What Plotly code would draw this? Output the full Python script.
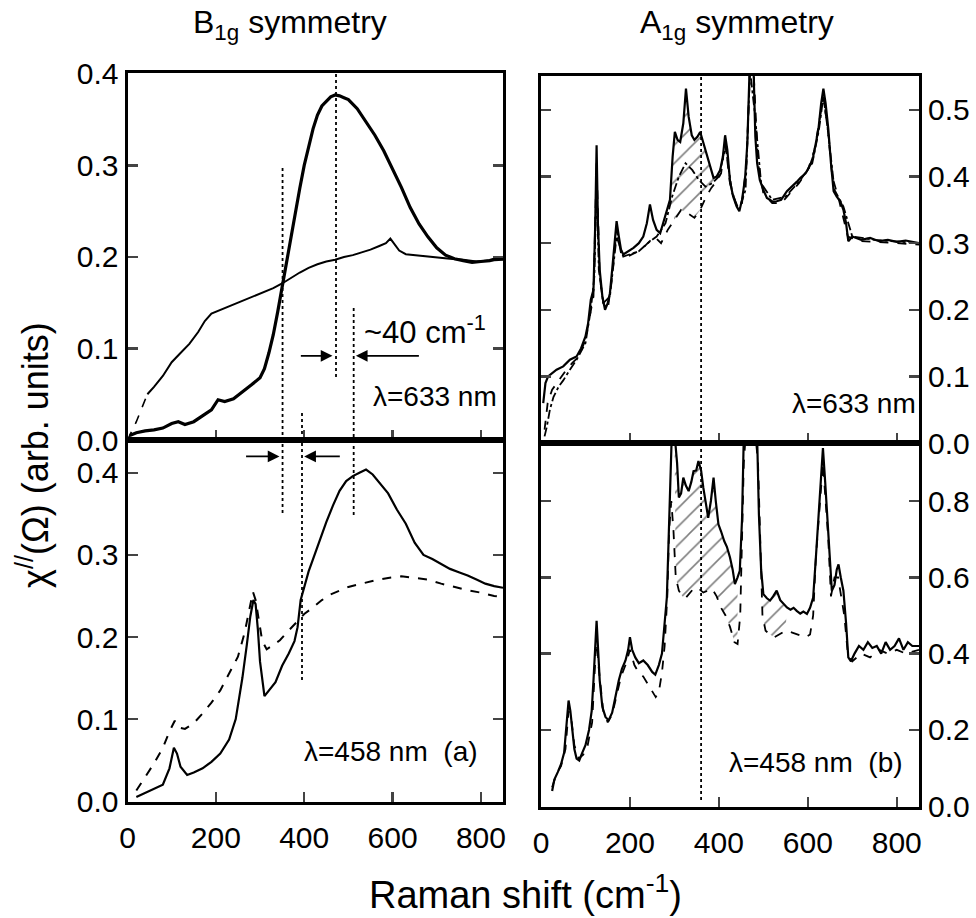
import plotly.graph_objects as go

# ---------------- data ----------------
# Left column, B1g symmetry, lambda = 633 nm
b1g_633_x_a = [5, 20, 40, 60, 80, 100, 115, 130, 150, 170, 190, 205, 220, 240, 260, 280, 300, 310, 320, 330,
               340, 350, 360, 370, 380, 390, 400, 410, 420, 430, 440, 450, 460, 470, 480, 490, 500, 520, 540, 560,
               580, 600, 620, 640, 660, 680, 700, 720, 740, 760, 780, 800, 820, 840, 850]
b1g_633_y_a = [0.005, 0.008, 0.010, 0.011, 0.013, 0.018, 0.020, 0.017, 0.020, 0.026, 0.033, 0.044, 0.042, 0.045, 0.052,
               0.060, 0.068, 0.078, 0.095, 0.115, 0.140, 0.168, 0.195, 0.220, 0.250, 0.275, 0.300, 0.322, 0.340, 0.355,
               0.365, 0.370, 0.375, 0.377, 0.376, 0.374, 0.372, 0.362, 0.348, 0.333, 0.316, 0.296, 0.276, 0.254, 0.236,
               0.222, 0.210, 0.202, 0.198, 0.196, 0.194, 0.195, 0.196, 0.199, 0.198]
b1g_633_x_b = [0, 10, 20, 30, 45, 60, 80, 100, 120, 140, 160, 175, 190, 210, 230, 250, 270, 290, 310, 330, 350, 370,
               390, 410, 430, 450, 470, 490, 510, 530, 550, 570, 585, 595, 605, 615, 630, 650, 670, 700, 730, 760,
               790, 820, 850]
b1g_633_y_b = [0.000, 0.010, 0.020, 0.032, 0.050, 0.058, 0.070, 0.085, 0.095, 0.105, 0.118, 0.130, 0.138, 0.142, 0.146,
               0.150, 0.154, 0.158, 0.162, 0.166, 0.171, 0.177, 0.183, 0.188, 0.192, 0.195, 0.197, 0.200, 0.202, 0.205,
               0.208, 0.212, 0.215, 0.220, 0.213, 0.207, 0.203, 0.202, 0.201, 0.199, 0.198, 0.197, 0.195, 0.196, 0.197]

# Left column, B1g symmetry, lambda = 458 nm
b1g_458_x_solid = [20, 40, 60, 80, 95, 105, 112, 120, 135, 150, 170, 190, 210, 230, 245, 260, 270, 278, 285, 290, 295,
                   300, 310, 320, 335, 350, 365, 378, 385, 392, 400, 410, 420, 435, 450, 465, 480, 495, 510, 525, 540,
                   555, 570, 590, 610, 630, 650, 670, 690, 710, 730, 750, 770, 790, 810, 830, 850]
b1g_458_y_solid = [0.005, 0.010, 0.015, 0.020, 0.040, 0.065, 0.058, 0.042, 0.032, 0.035, 0.040, 0.048, 0.058, 0.075,
                   0.100, 0.150, 0.190, 0.225, 0.245, 0.240, 0.210, 0.170, 0.128, 0.135, 0.145, 0.165, 0.180, 0.195,
                   0.212, 0.245, 0.262, 0.280, 0.295, 0.318, 0.340, 0.360, 0.378, 0.390, 0.396, 0.400, 0.404, 0.398,
                   0.388, 0.375, 0.355, 0.338, 0.315, 0.300, 0.295, 0.289, 0.283, 0.279, 0.275, 0.270, 0.265, 0.262,
                   0.260]
b1g_458_x_dash = [20, 40, 60, 80, 95, 107, 115, 130, 150, 170, 190, 210, 230, 250, 265, 275, 284, 290, 297, 305, 315,
                  330, 345, 360, 380, 400, 420, 440, 460, 480, 500, 530, 560, 590, 620, 650, 680, 710, 740, 770, 800,
                  830, 850]
b1g_458_y_dash = [0.013, 0.030, 0.046, 0.065, 0.085, 0.098, 0.090, 0.088, 0.095, 0.107, 0.120, 0.135, 0.155, 0.176,
                  0.205, 0.230, 0.255, 0.245, 0.220, 0.195, 0.185, 0.190, 0.196, 0.205, 0.217, 0.228, 0.236, 0.245,
                  0.252, 0.257, 0.261, 0.265, 0.269, 0.272, 0.274, 0.272, 0.270, 0.265, 0.261, 0.257, 0.254, 0.250,
                  0.249]

# Right column, A1g symmetry, lambda = 633 nm
a1g_633_x_solid = [5, 10, 16, 25, 35, 50, 65, 80, 90, 100, 106, 112, 118, 122, 125, 128, 132, 138, 144, 150, 155, 160,
                   165, 170, 175, 180, 185, 195, 208, 220, 230, 238, 245, 252, 260, 268, 275, 282, 290, 296, 301, 307,
                   313, 320, 326, 332, 339, 345, 352, 358, 365, 373, 380, 388, 395, 403, 409, 414, 419, 425, 432, 440,
                   446, 452, 459, 464, 469, 474, 478, 482, 486, 492, 500, 508, 515, 522, 530, 540, 553, 565, 575, 583,
                   595, 605, 612, 618, 624, 630, 635, 640, 646, 652, 658, 665, 673, 680, 686, 691, 700, 720, 740, 760,
                   780, 800, 820, 850]
a1g_633_y_solid = [0.060, 0.090, 0.100, 0.105, 0.110, 0.115, 0.125, 0.130, 0.142, 0.160, 0.180, 0.215, 0.230, 0.330,
                   0.447, 0.330, 0.260, 0.220, 0.200, 0.210, 0.225, 0.260, 0.300, 0.333, 0.310, 0.290, 0.283, 0.287,
                   0.293, 0.300, 0.310, 0.330, 0.358, 0.335, 0.320, 0.315, 0.330, 0.345, 0.365, 0.430, 0.467, 0.455,
                   0.452, 0.480, 0.532, 0.490, 0.462, 0.455, 0.460, 0.467, 0.450, 0.432, 0.415, 0.398, 0.400, 0.410,
                   0.430, 0.462, 0.440, 0.393, 0.370, 0.355, 0.348, 0.365, 0.398, 0.450, 0.560, 0.600, 0.560, 0.460,
                   0.420, 0.395, 0.380, 0.368, 0.365, 0.362, 0.363, 0.365, 0.378, 0.385, 0.392, 0.398, 0.405, 0.417,
                   0.430, 0.450, 0.472, 0.510, 0.532, 0.510, 0.472, 0.420, 0.378, 0.370, 0.363, 0.350, 0.330, 0.303,
                   0.310, 0.305, 0.308, 0.303, 0.305, 0.302, 0.304, 0.300]
a1g_633_x_dash = [8, 15, 25, 40, 55, 70, 85, 100, 110, 118, 125, 132, 140, 150, 160, 170, 180, 195, 210, 225, 240, 255,
                  270, 285, 300, 315, 330, 345, 358, 370, 383, 395, 405, 414, 425, 440, 452, 462, 470, 478, 488, 500,
                  520, 540, 560, 580, 600, 615, 625, 635, 645, 655, 670, 690, 720, 760, 800, 850]
a1g_633_y_dash = [0.020, 0.060, 0.080, 0.095, 0.108, 0.120, 0.130, 0.155, 0.190, 0.220, 0.420, 0.250, 0.210, 0.200,
                  0.250, 0.320, 0.285, 0.280, 0.285, 0.290, 0.300, 0.310, 0.300, 0.320, 0.335, 0.350, 0.345, 0.338,
                  0.350, 0.368, 0.383, 0.393, 0.405, 0.452, 0.390, 0.355, 0.360, 0.420, 0.560, 0.560, 0.420, 0.375,
                  0.360, 0.360, 0.375, 0.390, 0.410, 0.440, 0.480, 0.520, 0.470, 0.400, 0.365, 0.310, 0.303, 0.302,
                  0.300, 0.298]
a1g_633_x_dashdot = [8, 13, 20, 28, 40, 50, 65, 80, 100, 112, 120, 125, 130, 140, 155, 170, 185, 200, 220, 240, 260,
                     280, 295, 310, 325, 340, 355, 370, 385, 400, 415, 430, 445, 460, 470, 480, 495, 520, 550, 580,
                     610, 625, 635, 645, 660, 680, 700, 750, 800, 850]
a1g_633_y_dashdot = [0.010, 0.024, 0.050, 0.069, 0.085, 0.094, 0.110, 0.125, 0.150, 0.200, 0.250, 0.400, 0.260, 0.210,
                     0.220, 0.310, 0.280, 0.283, 0.288, 0.300, 0.310, 0.330, 0.370, 0.400, 0.420, 0.410, 0.395, 0.385,
                     0.390, 0.400, 0.445, 0.375, 0.350, 0.380, 0.560, 0.500, 0.390, 0.365, 0.370, 0.392, 0.420, 0.470,
                     0.520, 0.470, 0.380, 0.355, 0.310, 0.305, 0.302, 0.300]

# Right column, A1g symmetry, lambda = 458 nm
a1g_458_x_solid = [25, 30, 38, 45, 52, 57, 62, 66, 70, 75, 80, 86, 92, 100, 108, 114, 118, 122, 125, 128, 132, 138,
                   145, 152, 160, 168, 175, 182, 190, 196, 200, 205, 212, 220, 230, 240, 250, 257, 265, 272, 278, 283,
                   287, 290, 294, 300, 306, 310, 315, 320, 326, 332, 338, 343, 349, 354, 360, 365, 370, 376, 382, 388,
                   393, 399, 405, 412, 418, 425, 431, 436, 442, 447, 452, 456, 460, 470, 480, 486, 490, 495, 500, 508,
                   515, 522, 530, 538, 546, 553, 561, 568, 575, 583, 590, 598, 605, 612, 618, 624, 629, 634, 639, 644,
                   649, 654, 660, 665, 669, 674, 680, 686, 691, 697, 705, 715, 725, 735, 745, 755, 765, 775, 785, 795,
                   805, 815, 825, 835, 850]
a1g_458_y_solid = [0.040, 0.070, 0.090, 0.110, 0.140, 0.200, 0.277, 0.250, 0.200, 0.150, 0.125, 0.120, 0.138, 0.160,
                   0.200, 0.250, 0.330, 0.430, 0.486, 0.420, 0.330, 0.260, 0.234, 0.225, 0.245, 0.290, 0.330, 0.360,
                   0.382, 0.410, 0.443, 0.410, 0.390, 0.375, 0.382, 0.370, 0.352, 0.345, 0.370, 0.400, 0.470, 0.547,
                   0.700, 0.809, 0.970, 0.980, 0.900, 0.809, 0.820, 0.861, 0.840, 0.826, 0.850, 0.878, 0.880, 0.905,
                   0.880, 0.835, 0.800, 0.756, 0.800, 0.861, 0.800, 0.739, 0.720, 0.695, 0.680, 0.652, 0.620, 0.582,
                   0.600, 0.617, 0.750, 0.970, 1.000, 1.000, 1.000, 0.970, 0.765, 0.620, 0.556, 0.545, 0.539, 0.550,
                   0.565, 0.540, 0.530, 0.521, 0.515, 0.520, 0.512, 0.505, 0.510, 0.504, 0.520, 0.547, 0.650, 0.765,
                   0.850, 0.939, 0.850, 0.765, 0.660, 0.565, 0.580, 0.620, 0.634, 0.600, 0.565, 0.480, 0.390, 0.380,
                   0.400, 0.420, 0.410, 0.430, 0.415, 0.420, 0.400, 0.430, 0.410, 0.420, 0.440, 0.410, 0.430, 0.420,
                   0.420]
a1g_458_x_dash = [25, 35, 45, 55, 62, 68, 75, 85, 95, 105, 115, 120, 125, 130, 140, 150, 160, 170, 180, 190, 200, 210,
                  220, 230, 240, 250, 258, 265, 272, 278, 284, 288, 293, 298, 303, 310, 318, 326, 335, 345, 355, 365,
                  375, 385, 395, 405, 415, 425, 435, 442, 448, 452, 456, 462, 470, 480, 488, 493, 498, 505, 515, 525,
                  535, 550, 565, 580, 595, 605, 612, 618, 624, 630, 634, 640, 646, 652, 660, 668, 675, 682, 690, 700,
                  720, 740, 760, 780, 800, 820, 850]
a1g_458_y_dash = [0.050, 0.085, 0.105, 0.150, 0.250, 0.230, 0.160, 0.125, 0.135, 0.160, 0.220, 0.350, 0.450, 0.360,
                  0.250, 0.220, 0.240, 0.290, 0.340, 0.370, 0.410, 0.370, 0.350, 0.340, 0.320, 0.300, 0.286, 0.300,
                  0.350, 0.420, 0.550, 0.722, 0.800, 0.720, 0.600, 0.565, 0.550, 0.547, 0.560, 0.573, 0.570, 0.560,
                  0.565, 0.570, 0.550, 0.520, 0.500, 0.470, 0.430, 0.425, 0.500, 0.700, 0.900, 1.000, 1.000, 1.000,
                  0.900, 0.700, 0.500, 0.460, 0.450, 0.443, 0.450, 0.460, 0.455, 0.450, 0.443, 0.450, 0.500, 0.650,
                  0.750, 0.850, 0.900, 0.800, 0.700, 0.550, 0.600, 0.600, 0.550, 0.500, 0.400, 0.380, 0.400, 0.390,
                  0.410, 0.400, 0.410, 0.400, 0.410]

# hatched (difference) windows, cm^-1
hatch_633 = [(288, 398)]
hatch_458 = [(300, 445), (492, 560)]

# reference marker lines (cm^-1)
b1g_marks_x = [351, 472, 395, 512]
a1g_marks_x = [360]

x_ticks = [0, 200, 400, 600, 800]

# ---------------- layout helpers ----------------
W, H = 976, 918
FONT = "Liberation Sans, Arial, sans-serif"

def py(p):
    return 1 - p / H

fig = go.Figure()

def line_trace(x, y, xa, ya, width=2.0, dash="solid"):
    fig.add_trace(go.Scatter(x=x, y=y, mode="lines", xaxis=xa, yaxis=ya, showlegend=False,
                             line=dict(color="black", width=width, dash=dash), hoverinfo="skip"))

def hatch(xu, yu, xl, yl, lo, hi, xa, ya):
    lx = [a for a in xl if lo <= a <= hi]
    ly = [b for a, b in zip(xl, yl) if lo <= a <= hi]
    ux = [a for a in xu if lo <= a <= hi]
    uy = [b for a, b in zip(xu, yu) if lo <= a <= hi]
    fig.add_trace(go.Scatter(x=lx, y=ly, mode="lines", xaxis=xa, yaxis=ya, showlegend=False,
                             line=dict(width=0, color="rgba(0,0,0,0)"), hoverinfo="skip"))
    fig.add_trace(go.Scatter(x=ux, y=uy, mode="lines", xaxis=xa, yaxis=ya, showlegend=False,
                             line=dict(width=0, color="rgba(0,0,0,0)"), hoverinfo="skip",
                             fill="tonexty", fillcolor="rgba(0,0,0,0)",
                             fillpattern=dict(shape="/", fgcolor="black", bgcolor="rgba(0,0,0,0)",
                                              size=13, solidity=0.12, fillmode="overlay")))

# left top: x, y
line_trace([a for a in b1g_633_x_b if a <= 45], [b for a, b in zip(b1g_633_x_b, b1g_633_y_b) if a <= 45],
           "x", "y", 1.6, "dash")
line_trace([a for a in b1g_633_x_b if a >= 45], [b for a, b in zip(b1g_633_x_b, b1g_633_y_b) if a >= 45],
           "x", "y", 2.0)
line_trace(b1g_633_x_a, b1g_633_y_a, "x", "y", 3.2)

# left bottom: x3, y3
line_trace(b1g_458_x_dash, b1g_458_y_dash, "x3", "y3", 2.0, "dash")
line_trace(b1g_458_x_solid, b1g_458_y_solid, "x3", "y3", 2.2)

# right top: x2, y2
for lo, hi in hatch_633:
    hatch(a1g_633_x_solid, a1g_633_y_solid, a1g_633_x_dash, a1g_633_y_dash, lo, hi, "x2", "y2")
line_trace(a1g_633_x_dashdot, a1g_633_y_dashdot, "x2", "y2", 1.8, "dashdot")
line_trace(a1g_633_x_dash, a1g_633_y_dash, "x2", "y2", 1.8, "dash")
line_trace(a1g_633_x_solid, a1g_633_y_solid, "x2", "y2", 2.2)

# right bottom: x4, y4
for lo, hi in hatch_458:
    hatch(a1g_458_x_solid, a1g_458_y_solid, a1g_458_x_dash, a1g_458_y_dash, lo, hi, "x4", "y4")
line_trace(a1g_458_x_dash, a1g_458_y_dash, "x4", "y4", 1.8, "dash")
line_trace(a1g_458_x_solid, a1g_458_y_solid, "x4", "y4", 2.2)

ytickfont = dict(family=FONT, size=30, color="black")
xtickfont = dict(family=FONT, size=30, color="black")

def xax(domain, anchor, labels):
    return dict(domain=domain, anchor=anchor, range=[0, 850], tickvals=x_ticks, ticks="inside", ticklen=10,
                tickwidth=2.5, showline=True, linewidth=3, linecolor="black", mirror=True, showgrid=False,
                zeroline=False, showticklabels=labels, tickfont=xtickfont, ticklabelstandoff=7,
                fixedrange=True)

def yax(domain, anchor, rng, dtick, side):
    return dict(domain=domain, anchor=anchor, range=rng, dtick=dtick, tick0=0, tickformat=".1f", ticks="inside",
                ticklen=10, tickwidth=2.5, showline=True, linewidth=3, linecolor="black", mirror="ticks",
                showgrid=False, zeroline=False, side=side, tickfont=ytickfont, fixedrange=True)

xl = [127.5 / W, 503 / W]
xr = [541 / W, 919 / W]

fig.update_layout(
    width=W, height=H, margin=dict(l=0, r=0, t=0, b=0, autoexpand=False),
    paper_bgcolor="white", plot_bgcolor="white", showlegend=False,
    font=dict(family=FONT, color="black"),
    xaxis=xax(xl, "y", False),
    yaxis=yax([py(440), py(73)], "x", [0, 0.401], 0.1, "left"),
    xaxis3=xax(xl, "y3", True),
    yaxis3=yax([py(802), py(440)], "x3", [-0.001, 0.44], 0.1, "left"),
    xaxis2=xax(xr, "y2", False),
    yaxis2=yax([py(443), py(76)], "x2", [0, 0.551], 0.1, "right"),
    xaxis4=xax(xr, "y4", True),
    yaxis4=yax([py(807), py(443)], "x4", [-0.002, 0.952], 0.2, "right"),
)

# dotted marker lines (paper y extents)
b1g_spans = [(167, 513), (73, 377), (412, 680), (307, 515)]
for xv, (t, b) in zip(b1g_marks_x, b1g_spans):
    fig.add_shape(type="line", xref="x", yref="paper", x0=xv, x1=xv, y0=py(b), y1=py(t),
                  line=dict(color="black", width=1.8, dash="dot"))
for xv in a1g_marks_x:
    fig.add_shape(type="line", xref="x2", yref="paper", x0=xv, x1=xv, y0=py(800), y1=py(76),
                  line=dict(color="black", width=1.8, dash="dot"))

ann = []
def text(x, y, s, size, xref="paper", yref="paper", xanchor="center", yanchor="middle", angle=0):
    ann.append(dict(x=x, y=y, xref=xref, yref=yref, text=s, showarrow=False, xanchor=xanchor,
                    yanchor=yanchor, textangle=angle, font=dict(family=FONT, size=size, color="black")))

def arrow(x_head, x_tail, y, xref, yref):
    ann.append(dict(x=x_head, y=y, ax=x_tail, ay=y, xref=xref, yref=yref, axref=xref, ayref=yref, text="",
                    showarrow=True, arrowhead=2, arrowsize=1.3, arrowwidth=1.8, arrowcolor="black"))

text(290 / W, py(24), "B<sub>1g</sub> symmetry", 32)
text(737 / W, py(24), "A<sub>1g</sub> symmetry", 32)
text(525 / W, py(892), "Raman shift (cm<sup>-1</sup>)", 38)
text(33 / W, py(455), "χ<sup>//</sup>(Ω) (arb. units)", 36, angle=-90)

text(531, 0.12, "~40 cm<sup>-1</sup>", 31, "x", "y", "left")
text(551, 0.047, "λ=633 nm", 28, "x", "y", "left")
text(396, 0.06, "λ=458 nm  (a)", 28, "x3", "y3", "left")
text(560, 0.06, "λ=633 nm", 28, "x2", "y2", "left")
text(418, 0.115, "λ=458 nm  (b)", 28, "x4", "y4", "left")

arrow(464, 389, 0.092, "x", "y")
arrow(517, 663, 0.092, "x", "y")
arrow(344, 265, 0.42, "x3", "y3")
arrow(400, 484, 0.42, "x3", "y3")

fig.update_layout(annotations=ann)
fig.write_html("out.html", config={"displayModeBar": False, "staticPlot": True},
               post_script="document.body.style.margin='0px';document.body.style.overflow='hidden';")
